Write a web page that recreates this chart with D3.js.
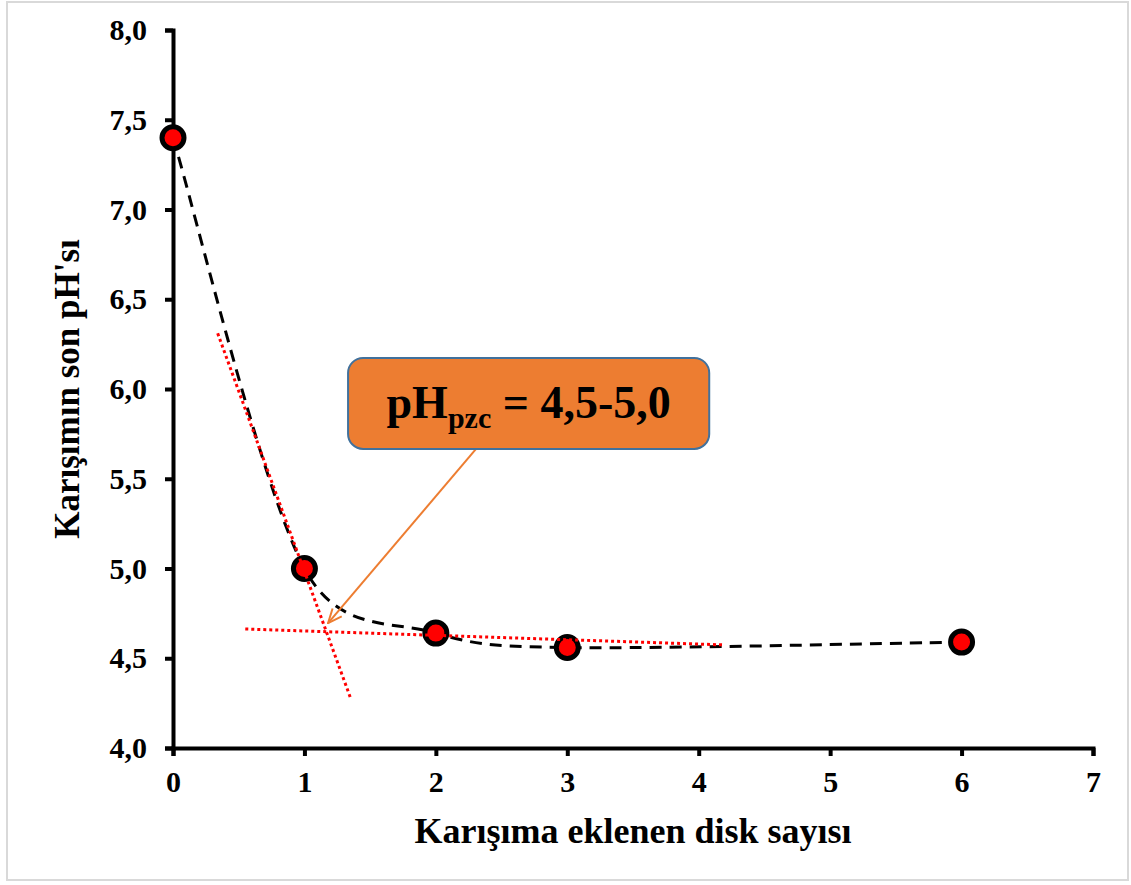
<!DOCTYPE html>
<html>
<head>
<meta charset="utf-8">
<script src="https://cdn.jsdelivr.net/npm/d3@7"></script>
<style>
  body { margin: 0; background: #fff; }
  svg text { font-family: "Liberation Serif", "Times New Roman", serif; font-weight: bold; }
</style>
</head>
<body>
<div id="chart"></div>
<script>
// veriler
const diskCounts = [0, 1, 2, 3, 6];
const phValues = [7.40, 5.00, 4.64, 4.56, 4.59];

// teğet çizgileri (kırmızı noktalı)
const steepTangentX = [0.34, 1.35];
const steepTangentY = [6.31, 4.28];
const flatTangentX = [0.55, 4.2];
const flatTangentY = [4.663, 4.574];

const xTicks = [0, 1, 2, 3, 4, 5, 6, 7];
const yTicks = [4.0, 4.5, 5.0, 5.5, 6.0, 6.5, 7.0, 7.5, 8.0];

const xTitle = "Karışıma eklenen disk sayısı";
const yTitle = "Karışımın son pH'sı";

// açıklama kutusu ve ok (veri koordinatlarında)
const boxX = [1.332, 4.08];
const boxY = [6.173, 5.666];
const arrowFrom = [2.306, 5.666];
const arrowTo = [1.18, 4.696];

const width = 1131;
const height = 885;
const margin = { top: 30, right: 38, bottom: 137, left: 173 };

const trLocale = d3.formatLocale({ decimal: ",", thousands: ".", grouping: [3], currency: ["", ""] });
const fmt = trLocale.format(".1f");

const svg = d3.select("#chart")
  .append("svg")
  .attr("width", width)
  .attr("height", height);

// dış çerçeve
svg.append("rect")
  .attr("x", 7).attr("y", 2)
  .attr("width", 1121).attr("height", 878)
  .attr("fill", "none")
  .attr("stroke", "#d9d9d9")
  .attr("stroke-width", 2);

const x = d3.scaleLinear().domain([0, 7]).range([margin.left, width - margin.right]);
const y = d3.scaleLinear().domain([4, 8]).range([height - margin.bottom, margin.top]);

const g = svg.append("g");

// eksenler
const xAxis = g.append("g")
  .attr("transform", `translate(0,${y(4)})`)
  .call(d3.axisBottom(x).tickValues(xTicks).tickFormat(d3.format("d")).tickSize(8).tickPadding(15));

const yAxis = g.append("g")
  .attr("transform", `translate(${x(0)},0)`)
  .call(d3.axisLeft(y).tickValues(yTicks).tickFormat(fmt).tickSize(8).tickPadding(18));

[xAxis, yAxis].forEach(ax => {
  ax.select(".domain").attr("stroke", "#000").attr("stroke-width", 4);
  ax.selectAll(".tick line").attr("stroke", "#000").attr("stroke-width", 4);
  ax.selectAll(".tick text")
    .attr("fill", "#000")
    .style("font-size", "30px");
});

// eksen başlıkları
svg.append("text")
  .attr("x", (x(0) + x(7)) / 2)
  .attr("y", 843)
  .attr("text-anchor", "middle")
  .style("font-size", "36px")
  .text(xTitle);

svg.append("text")
  .attr("transform", `translate(79,${(y(4) + y(8)) / 2}) rotate(-90)`)
  .attr("text-anchor", "middle")
  .style("font-size", "35px")
  .text(yTitle);

// kesikli eğri: Excel tarzı yumuşatılmış çizgi (kollar segment yarısıyla sınırlı)
const pts = diskCounts.map((d, i) => [d, phValues[i]]);
function smoothPath(points) {
  const p = points.map(d => [x(d[0]), y(d[1])]);
  const dist = (a, b) => Math.hypot(b[0] - a[0], b[1] - a[1]);
  const path = d3.path();
  path.moveTo(p[0][0], p[0][1]);
  for (let i = 0; i < p.length - 1; i++) {
    const p0 = p[Math.max(i - 1, 0)];
    const p1 = p[i];
    const p2 = p[i + 1];
    const p3 = p[Math.min(i + 2, p.length - 1)];
    const d12 = dist(p1, p2);
    const d02 = dist(p0, p2);
    const d13 = dist(p1, p3);
    let f1 = 1 / 6, f2 = 1 / 6;
    if (d02 / 6 > d12 / 2) f1 = d12 / (2 * d02);
    if (d13 / 6 > d12 / 2) f2 = d12 / (2 * d13);
    const c1 = [p1[0] + f1 * (p2[0] - p0[0]), p1[1] + f1 * (p2[1] - p0[1])];
    const c2 = [p2[0] - f2 * (p3[0] - p1[0]), p2[1] - f2 * (p3[1] - p1[1])];
    path.bezierCurveTo(c1[0], c1[1], c2[0], c2[1], p2[0], p2[1]);
  }
  return path.toString();
}

g.append("path")
  .attr("d", smoothPath(pts))
  .attr("fill", "none")
  .attr("stroke", "#000")
  .attr("stroke-width", 3)
  .attr("stroke-dasharray", "12,8");

// noktalar
g.selectAll("circle.pt")
  .data(pts)
  .enter()
  .append("circle")
  .attr("class", "pt")
  .attr("cx", d => x(d[0]))
  .attr("cy", d => y(d[1]))
  .attr("r", 11)
  .attr("fill", "#ff0000")
  .attr("stroke", "#000")
  .attr("stroke-width", 5);

// teğetler
const straight = d3.line().x(d => x(d[0])).y(d => y(d[1]));
[[steepTangentX, steepTangentY], [flatTangentX, flatTangentY]].forEach(([xs, ys]) => {
  g.append("path")
    .datum(xs.map((v, i) => [v, ys[i]]))
    .attr("d", straight)
    .attr("fill", "none")
    .attr("stroke", "#ff0000")
    .attr("stroke-width", 3)
    .attr("stroke-dasharray", "3,3");
});

// ok
svg.append("defs").append("marker")
  .attr("id", "arrowHead")
  .attr("viewBox", "0 0 16 16")
  .attr("refX", 15)
  .attr("refY", 8)
  .attr("markerWidth", 16)
  .attr("markerHeight", 16)
  .attr("markerUnits", "userSpaceOnUse")
  .attr("orient", "auto")
  .append("path")
  .attr("d", "M1,2 L15,8 L1,14")
  .attr("fill", "none")
  .attr("stroke", "#ed7d31")
  .attr("stroke-width", 2);

g.append("line")
  .attr("x1", x(arrowFrom[0])).attr("y1", y(arrowFrom[1]))
  .attr("x2", x(arrowTo[0])).attr("y2", y(arrowTo[1]))
  .attr("stroke", "#ed7d31")
  .attr("stroke-width", 2)
  .attr("marker-end", "url(#arrowHead)");

// açıklama kutusu
g.append("rect")
  .attr("x", x(boxX[0]))
  .attr("y", y(boxY[0]))
  .attr("width", x(boxX[1]) - x(boxX[0]))
  .attr("height", y(boxY[1]) - y(boxY[0]))
  .attr("rx", 15)
  .attr("fill", "#ed7d31")
  .attr("stroke", "#41719c")
  .attr("stroke-width", 2);

const label = g.append("text")
  .attr("x", (x(boxX[0]) + x(boxX[1])) / 2)
  .attr("y", 418)
  .attr("text-anchor", "middle")
  .style("font-size", "46px")
  .attr("fill", "#000");
label.append("tspan").text("pH");
label.append("tspan").attr("dy", 10).style("font-size", "30px").text("pzc");
label.append("tspan").attr("dy", -10).text(" = 4,5-5,0");
</script>
</body>
</html>
